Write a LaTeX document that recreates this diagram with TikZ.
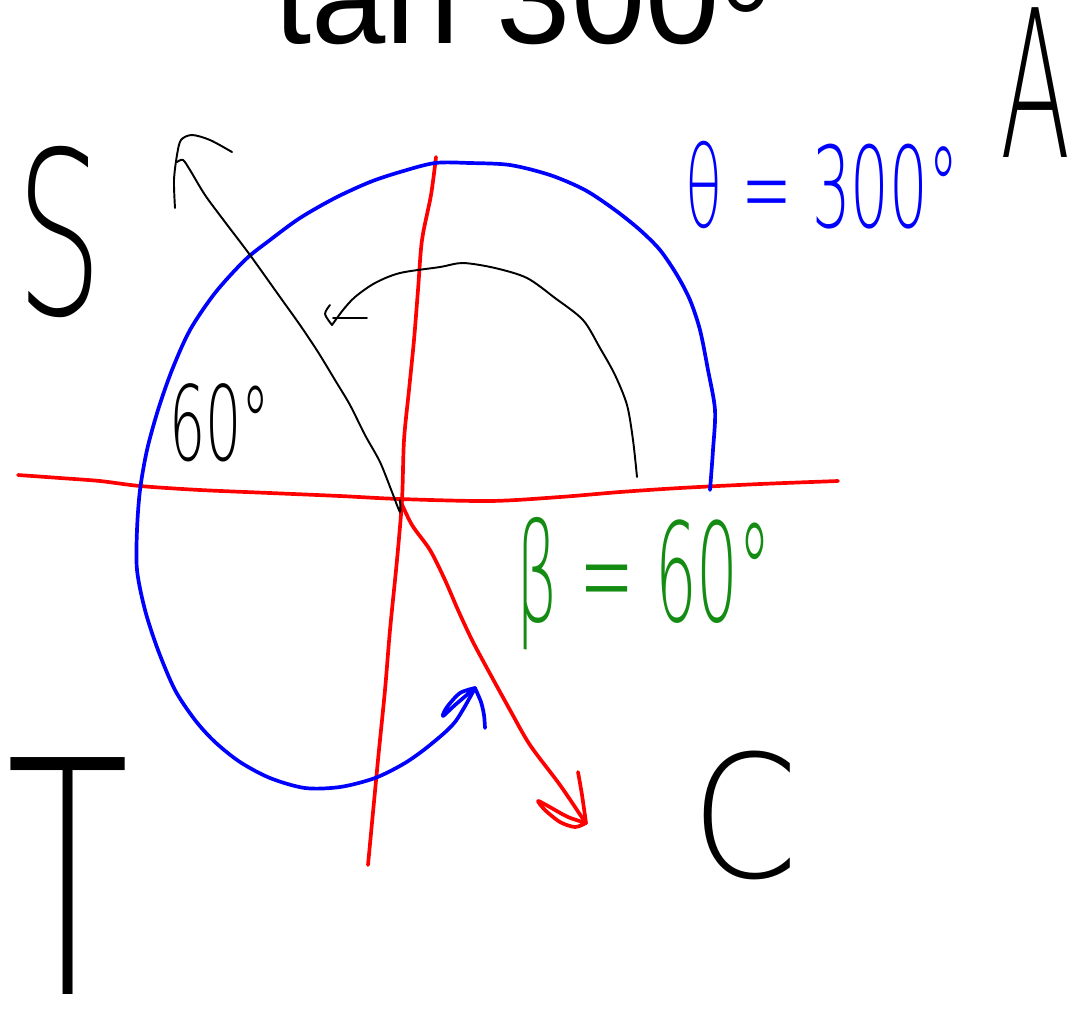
\documentclass[tikz,border=0pt]{standalone}
\usepackage{fontspec}
\setmainfont{Liberation Sans}
\newfontfamily\handfont{DejaVu Sans ExtraLight}
\definecolor{inkgreen}{RGB}{20,140,20}
\tikzset{
  redline/.style={red, line width=2.1pt, line cap=round, line join=round},
  blueline/.style={blue, line width=2.1pt, line cap=round, line join=round},
  inkline/.style={black, line width=1.1pt, line cap=round, line join=round},
  hand/.style={inner sep=0pt, anchor=center},
}
\begin{document}
\begin{tikzpicture}[x=0.02cm, y=-0.02cm]
\useasboundingbox (0,0) rectangle (1075,1012);
\node[anchor=base west, inner sep=0pt, font=\fontsize{76}{80}\selectfont] (title) at (274,43) {tan 300\raisebox{-0.19em}{°}};
\coordinate (O) at (400,500);
\draw[redline] plot[smooth] coordinates {(18,475) (60,478) (100,481) (140,486) (200,490) (270,493) (340,496) (400,499) (490,501) (560,497) (620,492) (680,488) (760,484) (838,481)};
\draw[redline] plot[smooth] coordinates {(436,157) (431,195) (422,240) (418,290) (414,340) (409,390) (404,440) (402,500) (397,560) (390,630) (385,690) (378,760) (368,865)};
\draw[redline] plot[smooth] coordinates {(O) (412,525) (430,550) (445,580) (458,610) (472,640) (488,670) (510,710) (530,745) (560,785) (585,822)};
\draw[redline] plot[smooth] coordinates {(578,772) (582,795) (586,823)};
\draw[redline] plot[smooth] coordinates {(586,823) (568,817) (548,806) (538,801) (545,810) (560,822) (575,827) (586,823)};
\draw[blueline] plot[smooth] coordinates {(710,490) (713,450) (715,410) (708,370) (700,330) (690,300) (677,275) (660,250) (640,230) (615,210) (585,190) (550,175) (510,165) (470,163) (435,163) (400,172) (370,182) (335,198) (300,218) (270,240) (245,260) (215,293) (190,330) (172,370) (158,410) (147,450) (140,490) (137,530) (137,570) (145,610) (158,650) (175,690) (195,720) (215,742) (240,762) (270,778) (305,788) (340,787) (375,778) (405,763) (430,745) (455,722) (475,688)};
\draw[blueline] plot[smooth] coordinates {(475,688) (481,702) (484,715) (485,728)};
\draw[blueline] plot[smooth] coordinates {(475,688) (460,693) (447,707) (443,716) (455,705) (475,688)};
\draw[inkline] plot[smooth] coordinates {(O) (400,512) (392,492) (380,462) (365,435) (350,405) (335,380) (318,352) (300,325) (280,297) (250,255) (225,222) (205,195) (190,170) (183,160) (177,162)};
\draw[inkline] plot[smooth] coordinates {(175,208) (174,180) (177,155) (181,140) (192,135) (210,140) (232,152)};
\draw[inkline] plot[smooth] coordinates {(637,477) (633,440) (627,405) (615,375) (600,348) (583,320) (555,298) (527,278) (495,268) (463,263) (440,267) (400,273) (375,283) (355,297) (343,310) (332,325)};
\draw[inkline] plot[smooth] coordinates {(332,325) (325,314) (330,305)};
\draw[inkline] (333,318) -- (367,318);
\node[hand, xscale=0.6, font=\handfont\fontsize{129}{130}\selectfont] (S) at (60,232) {S};
\node[hand, xscale=0.5, font=\handfont\fontsize{117}{120}\selectfont] (A) at (1036,83) {A};
\node[hand, xscale=0.62, font=\handfont\fontsize{185}{190}\selectfont] (T) at (68,876) {T};
\node[hand, xscale=0.9, font=\handfont\fontsize{97}{100}\selectfont] (C) at (745,815) {C};
\node[hand, text=blue, xscale=0.54, font=\handfont\fontsize{64}{66}\selectfont] (theta) at (822,185) {θ = 300°};
\node[hand, text=inkgreen, xscale=0.48, font=\handfont\fontsize{78}{80}\selectfont] (beta) at (644,584) {β = 60°};
\node[hand, xscale=0.55, font=\handfont\fontsize{59}{60}\selectfont] (ref) at (220,423) {60°};
\end{tikzpicture}
\end{document}
